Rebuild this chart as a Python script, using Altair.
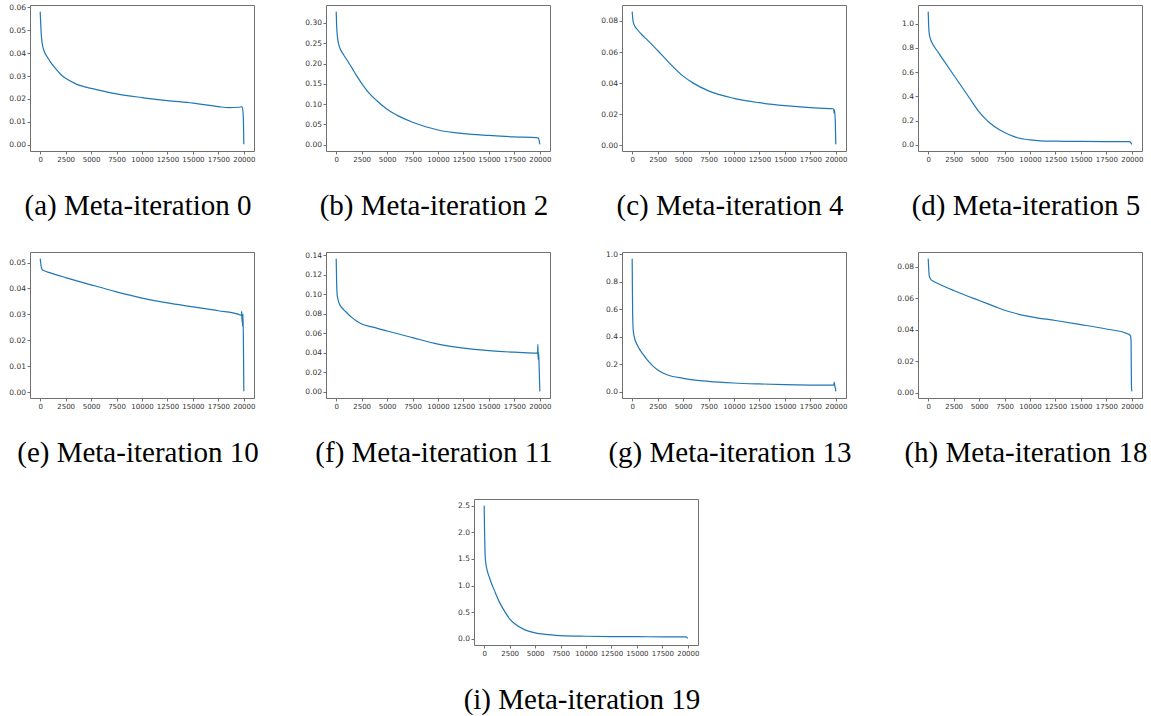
import altair as alt
import pandas as pd

# Training-loss curves recorded at several meta-iterations (steps 0..20000)
a_steps = [0, 50, 100, 200, 400, 700, 1000, 1500, 2000, 2500, 3500, 5000, 6500, 7500,
           10000, 12500, 15000, 17500, 18500, 19500, 19850, 19950, 20000]
a_loss = [0.0581, 0.0530, 0.0486, 0.0442, 0.0407, 0.0383, 0.0362, 0.0333, 0.0308, 0.0290,
          0.0266, 0.0246, 0.0231, 0.0222, 0.0206, 0.0193, 0.0182, 0.0167, 0.0162, 0.0164,
          0.0166, 0.0120, 0.0002]

b_steps = [0, 50, 100, 200, 400, 700, 1000, 1500, 2000, 2500, 3000, 4000, 5000, 6000, 7500,
           10000, 12500, 15000, 17500, 19700, 19850, 19950, 20000]
b_loss = [0.328, 0.290, 0.272, 0.253, 0.236, 0.223, 0.211, 0.191, 0.170, 0.151, 0.134, 0.108,
          0.087, 0.072, 0.055, 0.036, 0.027, 0.0225, 0.019, 0.0172, 0.0160, 0.008, 0.0005]

c_steps = [0, 50, 100, 250, 500, 1000, 1500, 2500, 3500, 5000, 6000, 7500, 10000, 12500,
           15000, 17500, 19700, 19800, 19830, 19870, 19950, 20000]
c_loss = [0.0860, 0.0820, 0.0795, 0.0768, 0.0745, 0.0708, 0.0677, 0.0610, 0.0540, 0.0445,
          0.0400, 0.0350, 0.0302, 0.0274, 0.0255, 0.0242, 0.0235, 0.0232, 0.0205, 0.0228,
          0.0150, 0.0006]

d_steps = [0, 50, 100, 250, 500, 1000, 1500, 2500, 3500, 4000, 5000, 5500, 6000, 7000, 7500,
           8500, 10000, 11000, 12500, 15000, 17500, 19800, 19900, 20000]
d_loss = [1.10, 0.98, 0.92, 0.868, 0.825, 0.762, 0.700, 0.577, 0.455, 0.393, 0.272, 0.225,
          0.185, 0.125, 0.102, 0.066, 0.041, 0.033, 0.030, 0.028, 0.027, 0.027, 0.018, 0.004]

e_steps = [0, 50, 100, 200, 400, 1000, 2500, 5000, 7500, 10000, 12500, 15000, 17500, 19500,
           19750, 19800, 19830, 19860, 19880, 19920, 19960, 20000]
e_loss = [0.0515, 0.0500, 0.0485, 0.0473, 0.0468, 0.0460, 0.0442, 0.0414, 0.0387, 0.0363,
          0.0344, 0.0329, 0.0314, 0.0300, 0.0296, 0.0312, 0.0270, 0.0300, 0.0255, 0.0300,
          0.0200, 0.0003]

f_steps = [0, 50, 100, 250, 500, 750, 1000, 1500, 2000, 2500, 3500, 5000, 7500, 10000, 12500,
           15000, 17500, 19700, 19780, 19810, 19840, 19870, 19900, 19950, 20000]
f_loss = [0.1366, 0.110, 0.099, 0.092, 0.0870, 0.0840, 0.0815, 0.0765, 0.0725, 0.0695, 0.0665,
          0.0623, 0.0555, 0.0488, 0.0447, 0.0422, 0.0405, 0.0395, 0.0390, 0.0485, 0.0330, 0.0400,
          0.0360, 0.0200, 0.0003]

g_steps = [0, 20, 50, 100, 200, 500, 1000, 1500, 2500, 3500, 5000, 7500, 10000, 12500, 15000,
           17500, 19800, 19850, 19900, 19950, 20000]
g_loss = [0.968, 0.75, 0.55, 0.45, 0.40, 0.339, 0.278, 0.230, 0.157, 0.121, 0.097, 0.075,
          0.063, 0.056, 0.051, 0.048, 0.047, 0.070, 0.040, 0.030, 0.002]

h_steps = [0, 50, 100, 250, 500, 1000, 2500, 5000, 6500, 7500, 10000, 12500, 15000, 17500,
           19500, 19700, 19850, 19900, 19930, 19960, 20000]
h_loss = [0.0853, 0.0790, 0.0745, 0.0722, 0.0710, 0.0694, 0.0651, 0.0587, 0.0550, 0.0525,
          0.0485, 0.0460, 0.0434, 0.0406, 0.0378, 0.0372, 0.0366, 0.0355, 0.0320, 0.0050, 0.0010]

i_steps = [0, 30, 60, 100, 150, 300, 500, 700, 1000, 1500, 2000, 2500, 3000, 4000, 5000, 6000,
           7500, 10000, 12500, 15000, 17500, 19800, 19950, 20000]
i_loss = [2.50, 2.10, 1.80, 1.55, 1.44, 1.28, 1.16, 1.05, 0.91, 0.69, 0.52, 0.377, 0.283,
          0.170, 0.113, 0.085, 0.063, 0.050, 0.044, 0.042, 0.038, 0.037, 0.020, 0.010]

# Axis tick labels
x_ticks = [0, 2500, 5000, 7500, 10000, 12500, 15000, 17500, 20000]
a_ticks = [0.00, 0.01, 0.02, 0.03, 0.04, 0.05, 0.06]
b_ticks = [0.00, 0.05, 0.10, 0.15, 0.20, 0.25, 0.30]
c_ticks = [0.00, 0.02, 0.04, 0.06, 0.08]
d_ticks = [0.0, 0.2, 0.4, 0.6, 0.8, 1.0]
e_ticks = [0.00, 0.01, 0.02, 0.03, 0.04, 0.05]
f_ticks = [0.00, 0.02, 0.04, 0.06, 0.08, 0.10, 0.12, 0.14]
g_ticks = [0.0, 0.2, 0.4, 0.6, 0.8, 1.0]
h_ticks = [0.00, 0.02, 0.04, 0.06, 0.08]
i_ticks = [0.0, 0.5, 1.0, 1.5, 2.0, 2.5]

captions = ["(a) Meta-iteration 0", "(b) Meta-iteration 2", "(c) Meta-iteration 4",
            "(d) Meta-iteration 5", "(e) Meta-iteration 10", "(f) Meta-iteration 11",
            "(g) Meta-iteration 13", "(h) Meta-iteration 18", "(i) Meta-iteration 19"]

W, H = 224, 146
LINE = "#1f77b4"
FRAME = "#707070"


def panel(steps, loss, ticks, fmt, caption):
    df = pd.DataFrame({"step": steps, "loss": loss})
    lo, hi = min(loss), max(loss)
    pad = 0.05 * (hi - lo)
    line = alt.Chart(df).mark_line(color=LINE, strokeWidth=1.2, interpolate="monotone").encode(
        x=alt.X("step:Q",
                scale=alt.Scale(domain=[-1000, 21000], nice=False, zero=False),
                axis=alt.Axis(values=x_ticks, format="d", title=None, labelFontSize=7,
                              labelFlush=False, labelOverlap=False)),
        y=alt.Y("loss:Q",
                scale=alt.Scale(domain=[lo - pad, hi + pad], nice=False, zero=False),
                axis=alt.Axis(values=ticks, format=fmt, title=None, labelFontSize=7.5,
                              minExtent=29, maxExtent=29)),
    )
    text = alt.Chart(pd.DataFrame({"caption": [caption]})).mark_text(
        font="Liberation Serif", fontSize=29, color="black", align="center",
        baseline="alphabetic",
    ).encode(x=alt.value(108), y=alt.value(H + 64), text="caption:N")
    return alt.layer(line, text).properties(width=W, height=H)


p = [
    panel(a_steps, a_loss, a_ticks, ".2f", captions[0]),
    panel(b_steps, b_loss, b_ticks, ".2f", captions[1]),
    panel(c_steps, c_loss, c_ticks, ".2f", captions[2]),
    panel(d_steps, d_loss, d_ticks, ".1f", captions[3]),
    panel(e_steps, e_loss, e_ticks, ".2f", captions[4]),
    panel(f_steps, f_loss, f_ticks, ".2f", captions[5]),
    panel(g_steps, g_loss, g_ticks, ".1f", captions[6]),
    panel(h_steps, h_loss, h_ticks, ".2f", captions[7]),
    panel(i_steps, i_loss, i_ticks, ".1f", captions[8]),
]

# invisible cell that pushes the last panel toward the centre
spacer = alt.Chart(pd.DataFrame({"v": [0]})).mark_point(opacity=0).encode(
    x=alt.value(0), y=alt.value(0)
).properties(width=372, height=H, view=alt.ViewBackground(strokeOpacity=0))

row1 = alt.hconcat(*p[0:4], spacing=72, bounds="flush")
row2 = alt.hconcat(*p[4:8], spacing=72, bounds="flush")
row3 = alt.hconcat(spacer, p[8], spacing=72, bounds="flush")

# nested rows count as zero height in a flush layout, so the spacing is the full row pitch
chart = alt.vconcat(row1, row2, row3, spacing=247, bounds="flush").properties(
    padding={"left": 0, "top": 2, "right": 0, "bottom": 0},
    background="white",
).configure_view(
    stroke=FRAME, strokeWidth=1
).configure_axis(
    domain=False, grid=False, ticks=True, tickSize=3, tickColor=FRAME,
    labelPadding=1.5, labelColor="#333333", labelFont="DejaVu Sans",
)

chart.save("out.html", embed_options={"renderer": "svg", "actions": False})
